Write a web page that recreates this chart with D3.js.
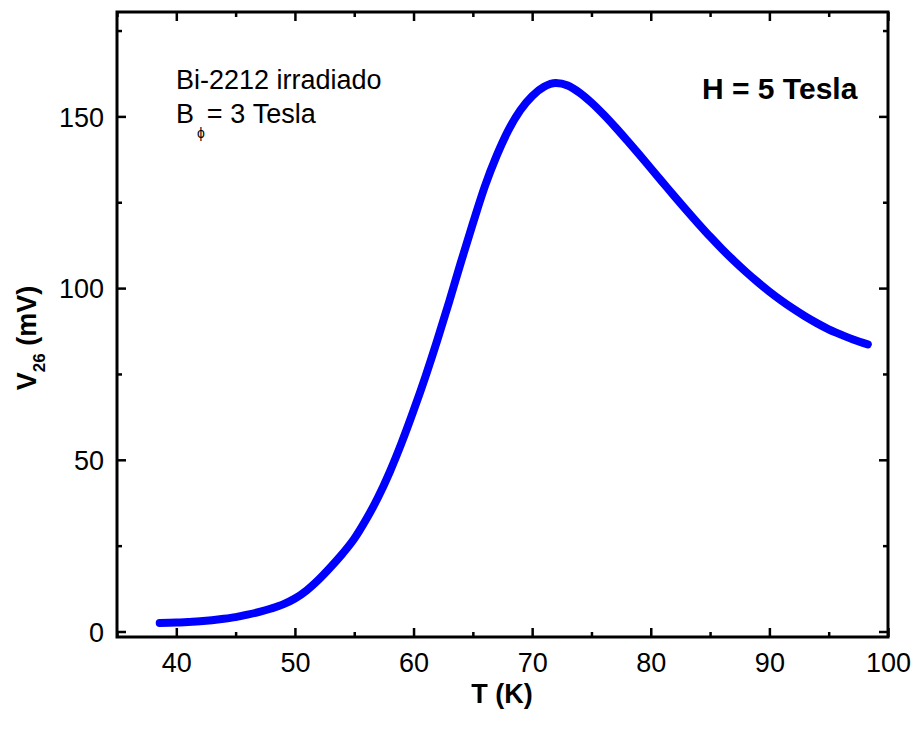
<!DOCTYPE html>
<html><head><meta charset="utf-8">
<script src="https://cdn.jsdelivr.net/npm/d3@7"></script>
<style>body{margin:0;background:#fff}svg{display:block;font-family:"Liberation Sans",Arial,sans-serif}</style>
</head><body><svg id="c" width="914" height="731"></svg>
<script>
const temperature = [38.6, 40, 41, 42, 43, 44, 45, 46, 47, 48, 49, 50, 51, 52, 53, 54, 55, 56, 57, 58, 59, 60, 61, 62, 63, 64, 65, 66, 67, 68, 69, 70, 71, 72, 73, 74, 75, 76, 77, 78, 79, 80, 81, 82, 83, 84, 85, 86, 87, 88, 89, 90, 91, 92, 93, 94, 95, 96, 97, 98.3];
const voltage     = [2.5, 2.6, 2.8, 3.0, 3.3, 3.7, 4.2, 4.9, 5.7, 6.7, 7.9, 9.6, 12.0, 15.1, 18.7, 22.6, 27.0, 32.6, 39.0, 46.5, 55.0, 64.3, 74.2, 84.8, 96.0, 107.6, 118.8, 129.5, 138.5, 146.0, 151.8, 155.9, 158.6, 159.7, 159.0, 156.9, 154.0, 150.6, 146.9, 143.0, 139.0, 134.9, 130.8, 126.7, 122.7, 118.8, 115.0, 111.4, 108.0, 104.8, 101.8, 99.0, 96.4, 94.0, 91.8, 89.8, 88.0, 86.5, 85.1, 83.6];
const xTicks = [40, 50, 60, 70, 80, 90, 100];
const xMinor = [35, 45, 55, 65, 75, 85, 95];
const yTicks = [0, 50, 100, 150];
const yMinor = [25, 75, 125, 175];

const svg = d3.select("#c");
const L = 117, R = 888, T = 12, B = 637;
const x = d3.scaleLinear().domain([35, 100]).range([L, R]);
const y = d3.scaleLinear().domain([-1.6, 180.4]).range([B, T]);

function drawAxis(axisFn, scale, ticks, size, transform, labels) {
  const g = svg.append("g").attr("transform", transform)
    .call(axisFn(scale).tickValues(ticks).tickSize(size).tickFormat(labels ? d3.format("d") : ""));
  g.select(".domain").remove();
  g.selectAll(".tick line").attr("stroke", "#000").attr("stroke-width", 2.5);
  g.selectAll(".tick text").attr("font-size", 27).attr("fill", "#000")
    .attr("font-family", "Liberation Sans, Arial, sans-serif");
  return g;
}
// bottom
const gx = drawAxis(d3.axisBottom, x, xTicks, -9, `translate(0,${B})`, true);
gx.selectAll(".tick text").attr("y", 35).attr("dy", 0);
drawAxis(d3.axisBottom, x, xMinor, -5, `translate(0,${B})`, false);
// top
drawAxis(d3.axisTop, x, xTicks, -9, `translate(0,${T})`, false);
drawAxis(d3.axisTop, x, xMinor, -5, `translate(0,${T})`, false);
// left
const gy = drawAxis(d3.axisLeft, y, yTicks, -9, `translate(${L},0)`, true);
gy.selectAll(".tick text").attr("x", -13).attr("dy", "0.36em");
drawAxis(d3.axisLeft, y, yMinor, -5, `translate(${L},0)`, false);
// right
drawAxis(d3.axisRight, y, yTicks, -9, `translate(${R},0)`, false);
drawAxis(d3.axisRight, y, yMinor, -5, `translate(${R},0)`, false);

svg.append("rect").attr("x", L).attr("y", T).attr("width", R - L).attr("height", B - T)
  .attr("fill", "none").attr("stroke", "#000").attr("stroke-width", 3);

const data = temperature.map((t, i) => [t, voltage[i]]);
svg.append("path").datum(data)
  .attr("d", d3.line().x(d => x(d[0])).y(d => y(d[1])).curve(d3.curveMonotoneX))
  .attr("fill", "none").attr("stroke", "#0000ff").attr("stroke-width", 8)
  .attr("stroke-linecap", "round").attr("stroke-linejoin", "round");

// axis titles
svg.append("text").attr("x", 502).attr("y", 703).attr("text-anchor", "middle")
  .attr("font-size", 27).attr("font-weight", "bold").text("T (K)");
const yl = svg.append("text").attr("transform", "translate(36,338) rotate(-90)")
  .attr("text-anchor", "middle").attr("font-size", 27).attr("font-weight", "bold");
yl.append("tspan").text("V");
yl.append("tspan").attr("font-size", 17).attr("dy", 9).text("26");
yl.append("tspan").attr("dy", -9).text(" (mV)");

// annotations
svg.append("text").attr("x", 176).attr("y", 89).attr("font-size", 27).text("Bi-2212 irradiado");
const b = svg.append("text").attr("x", 176).attr("y", 123).attr("font-size", 27);
b.append("tspan").text("B");
b.append("tspan").attr("font-size", 14).attr("dy", 15).attr("dx", 3).text("\u03D5");
b.append("tspan").attr("dy", -15).attr("dx", 2).text("= 3 Tesla");
svg.append("text").attr("x", 702).attr("y", 99).attr("font-size", 30).attr("font-weight", "bold").text("H = 5 Tesla");
</script></body></html>
